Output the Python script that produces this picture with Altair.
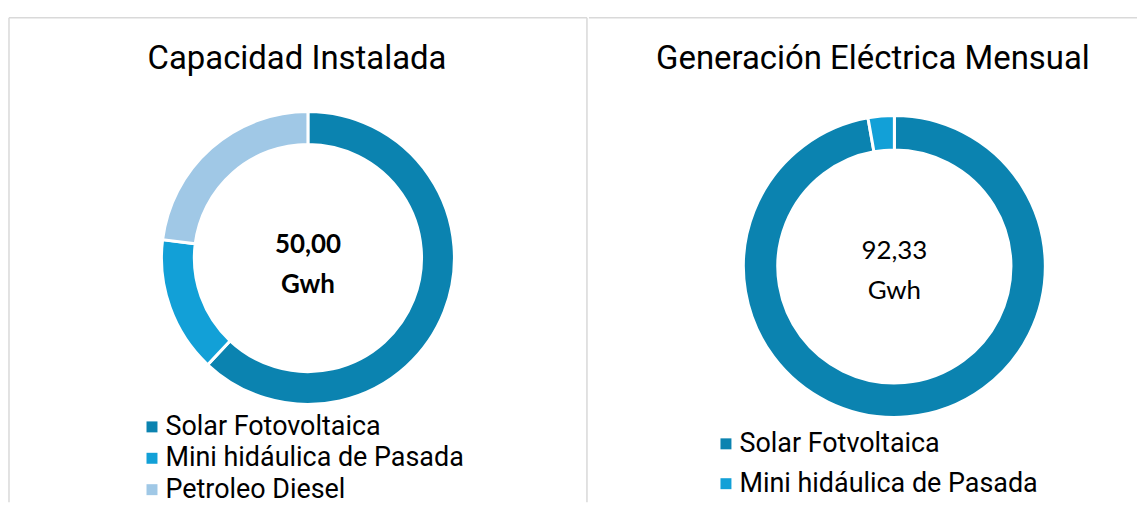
import altair as alt
import pandas as pd

# Left panel: Capacidad Instalada (share of ring, %)
cap_labels = ["Solar Fotovoltaica", "Mini hidáulica de Pasada", "Petroleo Diesel"]
cap_values = [62.0, 15.0, 23.0]
cap_colors = ["#0B83B0", "#12A0D7", "#A0C8E6"]
cap_center = ["50,00", "Gwh"]
cap_title = "Capacidad Instalada"

# Right panel: Generación Eléctrica Mensual
gen_labels = ["Solar Fotvoltaica", "Mini hidáulica de Pasada"]
gen_values = [97.2, 2.8]
gen_colors = ["#0B83B0", "#12A0D7"]
gen_center = ["92,33", "Gwh"]
gen_title = "Generación Eléctrica Mensual"

TITLE_FONT = "Roboto"
NUM_FONT = "Lato"
BORDER = "#D9D9D9"


def rule(x, x2, y, y2):
    return alt.Chart(pd.DataFrame({"a": [0]})).mark_rule(
        color=BORDER, strokeWidth=1.5
    ).encode(x=alt.value(x), x2=alt.value(x2), y=alt.value(y), y2=alt.value(y2))


def panel(labels, values, colors, center, title, w, h, cx, cy, r_out, r_in,
          bold, tx, ty, lx, ly, row_pad, num_y0, num_y1, borders):
    df = pd.DataFrame({"cat": labels, "val": values, "ord": list(range(len(labels)))})
    arcs = alt.Chart(df).mark_arc(
        outerRadius=r_out, innerRadius=r_in, stroke="white", strokeWidth=3
    ).encode(
        theta=alt.Theta("val:Q", stack=True),
        order=alt.Order("ord:Q"),
        color=alt.Color(
            "cat:N",
            scale=alt.Scale(domain=labels, range=colors),
            sort=labels,
            legend=alt.Legend(
                title=None, orient="none", legendX=lx, legendY=ly, padding=0,
                symbolType="square", symbolSize=121, symbolStrokeWidth=0,
                labelFontSize=27, labelFont=TITLE_FONT, labelColor="#000000",
                labelOffset=0, rowPadding=row_pad, labelLimit=500,
            ),
        ),
        x=alt.value(cx),
        y=alt.value(cy),
    )
    tdf = pd.DataFrame({"t": [title]})
    ttl = alt.Chart(tdf).mark_text(
        font=TITLE_FONT, fontSize=33, color="#000000", align="center",
        baseline="alphabetic"
    ).encode(text="t:N", x=alt.value(tx), y=alt.value(ty))
    c0 = pd.DataFrame({"t": [center[0]]})
    c1 = pd.DataFrame({"t": [center[1]]})
    weight = "bold" if bold else "normal"
    n0 = alt.Chart(c0).mark_text(
        font=NUM_FONT, fontSize=26, fontWeight=weight, color="#000000",
        align="center", baseline="alphabetic"
    ).encode(text="t:N", x=alt.value(cx), y=alt.value(num_y0))
    n1 = alt.Chart(c1).mark_text(
        font=NUM_FONT, fontSize=26, fontWeight=weight, color="#000000",
        align="center", baseline="alphabetic"
    ).encode(text="t:N", x=alt.value(cx), y=alt.value(num_y1))
    layers = [rule(*b) for b in borders] + [arcs, ttl, n0, n1]
    return alt.layer(*layers).properties(width=w, height=h)


H = 486
left = panel(cap_labels, cap_values, cap_colors, cap_center, cap_title,
             580, H, 300, 241, 147, 114, True, 289, 51, 130, 397, 3.5, 236, 276,
             [(0, 580, 0, 0), (0, 0, 0, H), (580, 580, 0, H)])
right = panel(gen_labels, gen_values, gen_colors, gen_center, gen_title,
              550, H, 306.5, 249.5, 151.5, 117, False, 285, 51, 124, 414, 12, 242, 282,
              [(0, 550, 0, 0)])

chart = alt.hconcat(left, right, spacing=0).resolve_scale(
    color="independent", theta="independent"
).resolve_legend(color="independent").properties(
    padding={"left": 0, "top": 8, "right": 0, "bottom": 0},
    background="white",
).configure_view(strokeWidth=0)

chart.save("out.html", embed_options={"renderer": "svg", "actions": False})
